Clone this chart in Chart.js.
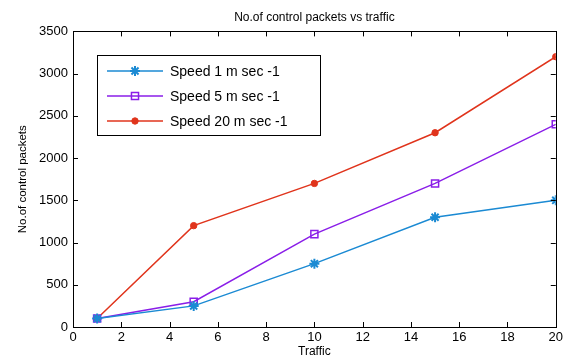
<!DOCTYPE html>
<html><head><meta charset="utf-8">
<script src="https://cdn.jsdelivr.net/npm/chart.js@4"></script>
<style>html,body{margin:0;padding:0;background:#fff}#wrap{width:566px;height:359px}</style>
</head><body><div id="wrap"><canvas id="c" width="566" height="359"></canvas></div>
<script>
const traffic = [1, 5, 10, 15, 20];
const speed1 = [100, 250, 750, 1300, 1500];
const speed5 = [100, 300, 1100, 1700, 2400];
const speed20 = [100, 1200, 1700, 2300, 3200];
const seriesLabels = ['Speed 1 m sec -1', 'Speed 5 m sec -1', 'Speed 20 m sec -1'];
const xTicks = [0,2,4,6,8,10,12,14,16,18,20];
const yTicks = [0,500,1000,1500,2000,2500,3000,3500];

const FONT = '"Liberation Sans", Arial, sans-serif';
const toXY = v => v.map((y,i)=>({x:traffic[i], y}));

const frame = {
  id:'frame',
  afterDraw(chart){
    const {ctx, chartArea:a, scales:{x,y}} = chart;
    ctx.save();
    ctx.strokeStyle='#000'; ctx.lineWidth=1;
    ctx.strokeRect(Math.round(a.left)+0.5, Math.round(a.top)+0.5, Math.round(a.right-a.left), Math.round(a.bottom-a.top));
    const L=5;
    ctx.beginPath();
    xTicks.forEach(v=>{const px=Math.round(x.getPixelForValue(v))+0.5;
      ctx.moveTo(px,a.bottom); ctx.lineTo(px,a.bottom-L);
      ctx.moveTo(px,a.top); ctx.lineTo(px,a.top+L);});
    yTicks.forEach(v=>{const py=Math.round(y.getPixelForValue(v))+0.5;
      ctx.moveTo(a.left,py); ctx.lineTo(a.left+L,py);
      ctx.moveTo(a.right,py); ctx.lineTo(a.right-L,py);});
    ctx.stroke();
    // legend
    const bx=97.5, by=55.5, bw=223, bh=80;
    ctx.fillStyle='#fff'; ctx.fillRect(bx,by,bw,bh);
    ctx.strokeRect(bx,by,bw,bh);
    ctx.font='14px '+FONT; ctx.textBaseline='middle'; ctx.textAlign='left';
    chart.data.datasets.forEach((ds,i)=>{
      const ry = 71 + i*25;
      ctx.strokeStyle=ds.borderColor; ctx.lineWidth=1.5;
      ctx.beginPath(); ctx.moveTo(107,ry); ctx.lineTo(163,ry); ctx.stroke();
      ctx.fillStyle=ds.pointBackgroundColor;
      ctx.strokeStyle=ds.pointBorderColor;
      ctx.lineWidth=ds.pointBorderWidth;
      Chart.helpers.drawPoint(ctx,{pointStyle:ds.pointStyle, radius:ds.pointRadius, borderWidth:ds.pointBorderWidth, rotation:0}, 135, ry);
      ctx.fillStyle='#000';
      ctx.fillText(ds.label, 170, ry+1);
    });
    ctx.restore();
  }
};

new Chart(document.getElementById('c'), {
  type:'line',
  data:{datasets:[
    {label:seriesLabels[0], data:toXY(speed1), borderColor:'#1b8ad3', backgroundColor:'#1b8ad3', pointStyle:'star', pointRadius:5, pointBorderWidth:2, borderWidth:1.5, pointBackgroundColor:'#1b8ad3', pointBorderColor:'#1b8ad3'},
    {label:seriesLabels[1], data:toXY(speed5), borderColor:'#8a1ee8', backgroundColor:'#ffffff', pointStyle:'rect', pointRadius:5, pointBorderWidth:1.5, borderWidth:1.5, pointBackgroundColor:'rgba(255,255,255,0)', pointBorderColor:'#8a1ee8'},
    {label:seriesLabels[2], data:toXY(speed20), borderColor:'#e0341c', backgroundColor:'#e0341c', pointStyle:'circle', pointRadius:3.2, pointBorderWidth:1, borderWidth:1.5, pointBackgroundColor:'#e0341c', pointBorderColor:'#e0341c'}
  ]},
  options:{
    responsive:false, animation:false,
    layout:{padding:{left:16,right:7,top:0,bottom:0}},
    plugins:{
      legend:{display:false}, tooltip:{enabled:false},
      title:{display:true, fullSize:false, text:'No.of control packets vs traffic', color:'#000', font:{family:FONT,size:12,weight:'normal'}, padding:{top:10,bottom:7}}
    },
    scales:{
      x:{type:'linear', min:0, max:20,
        afterBuildTicks:s=>{s.ticks=xTicks.map(v=>({value:v}));},
        afterFit:s=>{s.height=32;},
        grid:{display:false, drawTicks:false}, border:{display:false},
        ticks:{color:'#000', font:{family:FONT,size:13}, padding:3, maxRotation:0, callback:v=>String(v)},
        title:{display:true, text:'Traffic', color:'#000', font:{family:FONT,size:12}, padding:{top:0,bottom:0}}
      },
      y:{min:0, max:3500,
        afterBuildTicks:s=>{s.ticks=yTicks.map(v=>({value:v}));},
        afterFit:s=>{s.width=57;},
        grid:{display:false, drawTicks:false}, border:{display:false},
        ticks:{color:'#000', font:{family:FONT,size:13}, padding:5, callback:v=>String(v)},
        title:{display:true, text:'No.of control packets', color:'#000', font:{family:FONT,size:11.5}, padding:{top:0,bottom:4}}
      }
    }
  },
  plugins:[frame]
});
</script></body></html>
